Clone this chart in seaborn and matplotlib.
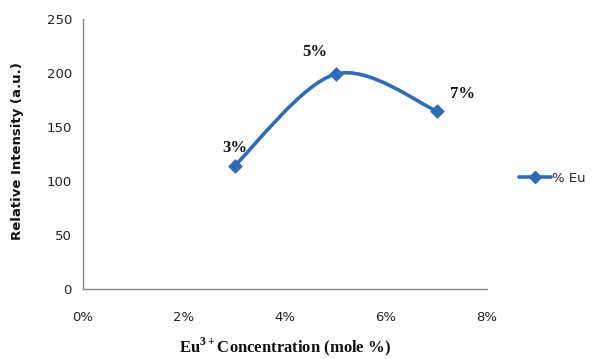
import numpy as np
import pandas as pd
import matplotlib
matplotlib.use("Agg")
import matplotlib.pyplot as plt
from matplotlib.path import Path
from matplotlib.patches import PathPatch
from matplotlib.lines import Line2D
import seaborn as sns

# Eu3+ doping level (fraction) and measured relative intensity
concentration = [0.03, 0.05, 0.07]
intensity = [114, 199, 165]
point_labels = ["3%", "5%", "7%"]
x_ticks = [0.0, 0.02, 0.04, 0.06, 0.08]
x_tick_labels = ["0%", "2%", "4%", "6%", "8%"]
y_ticks = [0, 50, 100, 150, 200, 250]

series_name = "% Eu"
line_color = "#2E6DB4"
axis_color = "#868686"

df = pd.DataFrame({"conc": concentration, "intensity": intensity})

sns.set_style("white")
plt.rcParams["font.family"] = ["DejaVu Sans"]
plt.rcParams["mathtext.fontset"] = "custom"
plt.rcParams["mathtext.rm"] = "Liberation Serif"
plt.rcParams["mathtext.bf"] = "Liberation Serif:bold"

fig = plt.figure(figsize=(5.95, 3.59), dpi=100)
ax = fig.add_axes([0.1395, 0.195, 0.679, 0.752])

# smoothed connecting line: cubic Bezier segments (Catmull-Rom style control points)
pts = np.column_stack([concentration, intensity]).astype(float)
n = len(pts)
verts = [tuple(pts[0])]
codes = [Path.MOVETO]
for i in range(n - 1):
    p0 = pts[max(i - 1, 0)]
    p1 = pts[i]
    p2 = pts[i + 1]
    p3 = pts[min(i + 2, n - 1)]
    c1 = p1 + (p2 - p0) / 6.0
    c2 = p2 - (p3 - p1) / 6.0
    verts += [tuple(c1), tuple(c2), tuple(p2)]
    codes += [Path.CURVE4] * 3
ax.add_patch(PathPatch(Path(verts, codes), facecolor="none", edgecolor=line_color,
                       linewidth=2.6, capstyle="round", zorder=2))

# data markers
sns.scatterplot(data=df, x="conc", y="intensity", marker="D", s=48,
                color=line_color, edgecolor=line_color, ax=ax, zorder=3, legend=False)

# point annotations
offsets = [(0, 18), (-21, 22), (26, 17)]
for xv, yv, lab, (dx, dy) in zip(concentration, intensity, point_labels, offsets):
    ax.annotate(lab, (xv, yv), xytext=(dx * 0.72, dy * 0.72), textcoords="offset points",
                ha="center", va="center", fontsize=12, fontweight="bold",
                family="Liberation Serif", color="#111111")

ax.set_xlim(0, 0.08)
ax.set_ylim(0, 250)
ax.set_xticks(x_ticks)
ax.set_xticklabels(x_tick_labels)
ax.set_yticks(y_ticks)

for side in ["top", "right"]:
    ax.spines[side].set_visible(False)
for side in ["left", "bottom"]:
    ax.spines[side].set_color(axis_color)
    ax.spines[side].set_linewidth(1.0)

ax.tick_params(axis="both", which="major", direction="out", length=4, width=1.0,
               color=axis_color, labelsize=9.5, labelcolor="#222222")
ax.tick_params(axis="x", pad=12)
ax.tick_params(axis="y", pad=4)

ax.set_xlabel(r"Eu$^{\mathbf{3+}}$Concentration (mole %)", fontsize=12, fontweight="bold",
              family="Liberation Serif", labelpad=8, color="#111111")
ax.set_ylabel("Relative Intensity (a.u.)", fontsize=9.5, fontweight="bold", color="#111111")
ax.yaxis.set_label_coords(-0.146, 0.511)

handle = Line2D([0], [0], color=line_color, linewidth=2.6, marker="D", markersize=6)
leg = ax.legend([handle], [series_name], loc="center left", bbox_to_anchor=(1.05, 0.41),
                frameon=False, fontsize=9.5, handlelength=2.4, handletextpad=0.1)

fig.savefig("out.png", dpi=100)
